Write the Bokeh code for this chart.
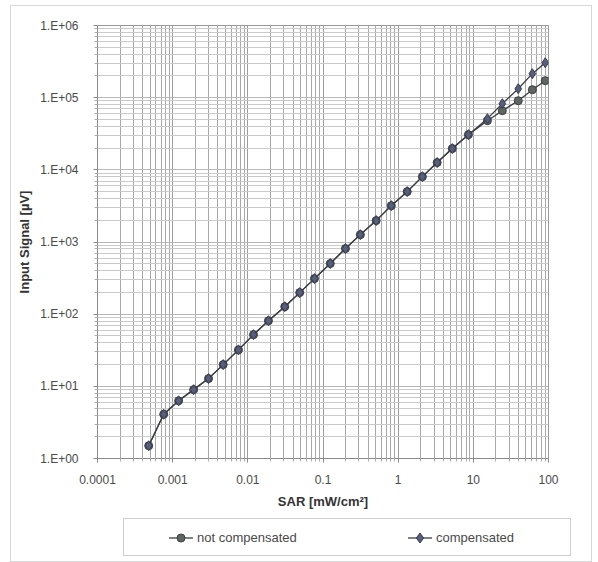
from bokeh.plotting import figure
from bokeh.layouts import column
from bokeh.models import FixedTicker, Div
from bokeh.embed import file_html
from bokeh.resources import INLINE

# SAR values [mW/cm^2]
sar = [0.00048, 0.00076, 0.0012, 0.0019, 0.0030, 0.0047, 0.0075, 0.0119, 0.0188,
       0.031, 0.049, 0.077, 0.125, 0.199, 0.314, 0.51, 0.81, 1.32, 2.1, 3.3,
       5.25, 8.6, 15.4, 24.3, 39.6, 61.0, 90.6]
# Input signal [uV]
not_compensated = [1.5, 4.1, 6.3, 9.0, 12.8, 20, 32, 52, 81, 127, 199, 311, 503, 811,
                   1265, 1980, 3190, 4990, 8050, 12600, 19700, 30700, 48000, 66000,
                   90800, 129000, 172000]
compensated = [1.5, 4.1, 6.3, 9.0, 12.8, 20, 32, 52, 81, 127, 199, 311, 503, 811,
               1265, 1980, 3190, 4990, 8050, 12600, 19700, 30700, 51200, 82600,
               133000, 215000, 305000]

x_ticks = [0.0001, 0.001, 0.01, 0.1, 1, 10, 100]
x_tick_labels = ["0.0001", "0.001", "0.01", "0.1", "1", "10", "100"]
y_ticks = [1, 10, 100, 1000, 10000, 100000, 1000000]
y_tick_labels = ["1.E+00", "1.E+01", "1.E+02", "1.E+03", "1.E+04", "1.E+05", "1.E+06"]
series_names = ["not compensated", "compensated"]

LINE = "#3a3d44"
FILL_NC = "#5e665f"
FILL_C = "#56607e"

def minors(ticks):
    out = []
    for t in ticks[:-1]:
        for m in range(2, 10):
            out.append(t * m)
    return out

p = figure(width=580, height=509, x_axis_type="log", y_axis_type="log",
           x_range=(1e-4, 100), y_range=(1, 1e6),
           output_backend="svg", toolbar_location=None,
           min_border_left=86, min_border_right=43, min_border_top=19,
           min_border_bottom=57)
p.background_fill_color = "white"
p.border_fill_color = "white"
p.outline_line_color = "#9a9a9a"

p.xaxis.ticker = FixedTicker(ticks=x_ticks, minor_ticks=minors(x_ticks))
p.yaxis.ticker = FixedTicker(ticks=y_ticks, minor_ticks=minors(y_ticks))
p.xaxis.major_label_overrides = {t: l for t, l in zip(x_ticks, x_tick_labels)}
p.yaxis.major_label_overrides = {t: l for t, l in zip(y_ticks, y_tick_labels)}

for ax in (p.xaxis, p.yaxis):
    ax.axis_line_color = "#8a8a8a"
    ax.major_tick_line_color = "#8a8a8a"
    ax.minor_tick_line_color = "#b0b0b0"
    ax.major_tick_out = 4
    ax.major_tick_in = 0
    ax.minor_tick_out = 3
    ax.minor_tick_in = 0
    ax.major_label_text_font = "Liberation Sans"
    ax.major_label_text_font_size = "12px"
    ax.major_label_text_color = "#4a4a4a"
    ax.axis_label_text_font = "Liberation Sans"
    ax.axis_label_text_font_size = "13px"
    ax.axis_label_text_font_style = "bold"
    ax.axis_label_text_color = "#333333"

p.xaxis.axis_label = "SAR [mW/cm²]"
p.yaxis.axis_label = "Input Signal [µV]"
p.xaxis.major_label_standoff = 12
p.yaxis.major_label_standoff = 15
p.xaxis.axis_label_standoff = 7
p.yaxis.axis_label_standoff = 5

p.xgrid.grid_line_color = "#9c9c9c"
p.xgrid.minor_grid_line_color = "#a8a8a8"
p.ygrid.grid_line_color = "#b8b8b8"
p.ygrid.minor_grid_line_color = "#cacaca"

p.line(sar, not_compensated, line_color=LINE, line_width=1.3)
p.scatter(sar, not_compensated, marker="circle", size=8,
          fill_color=FILL_NC, line_color=LINE, line_width=1)
p.line(sar, compensated, line_color=LINE, line_width=1.3)
p.scatter(sar, compensated, marker="diamond", size=10,
          fill_color=FILL_C, line_color="#3a3d50", line_width=1)

# legend strip below the chart (HTML, real text)
GW = 24

def item(x0, marker_svg, label):
    return (
        f'<svg style="position:absolute;left:{x0}px;top:9px" width="{GW}" height="20">'
        f'<line x1="0" y1="10" x2="{GW}" y2="10" stroke="{LINE}" stroke-width="1.3"/>'
        f'{marker_svg}</svg>'
        f'<span style="position:absolute;left:{x0 + GW + 4}px;top:11px;white-space:nowrap">{label}</span>'
    )

c = GW // 2
circle_svg = f'<circle cx="{c}" cy="10" r="4" fill="{FILL_NC}" stroke="{LINE}" stroke-width="1"/>'
diamond_svg = (f'<polygon points="{c},5 {c + 3.7},10 {c},15 {c - 3.7},10" fill="{FILL_C}" '
               f'stroke="#3a3d50" stroke-width="1"/>')

html = (
    '<div style="position:relative;width:580px;height:46px;">'
    '<div style="position:absolute;left:112px;top:3px;width:448px;height:38px;'
    'border:1px solid #cfcfcf;box-sizing:border-box;background:white;'
    "font-family:'Liberation Sans',sans-serif;font-size:13px;line-height:15px;color:#4a4a4a;\">"
    + item(45, circle_svg, series_names[0])
    + item(284, diamond_svg, series_names[1])
    + '</div></div>'
)
legend_div = Div(text=html, width=580, height=46, margin=0)

layout = column(p, legend_div, spacing=0, margin=(5, 0, 0, 10),
                styles={"border": "1px solid #d8d8d8"})

open("out.html", "w").write(file_html(layout, INLINE))
